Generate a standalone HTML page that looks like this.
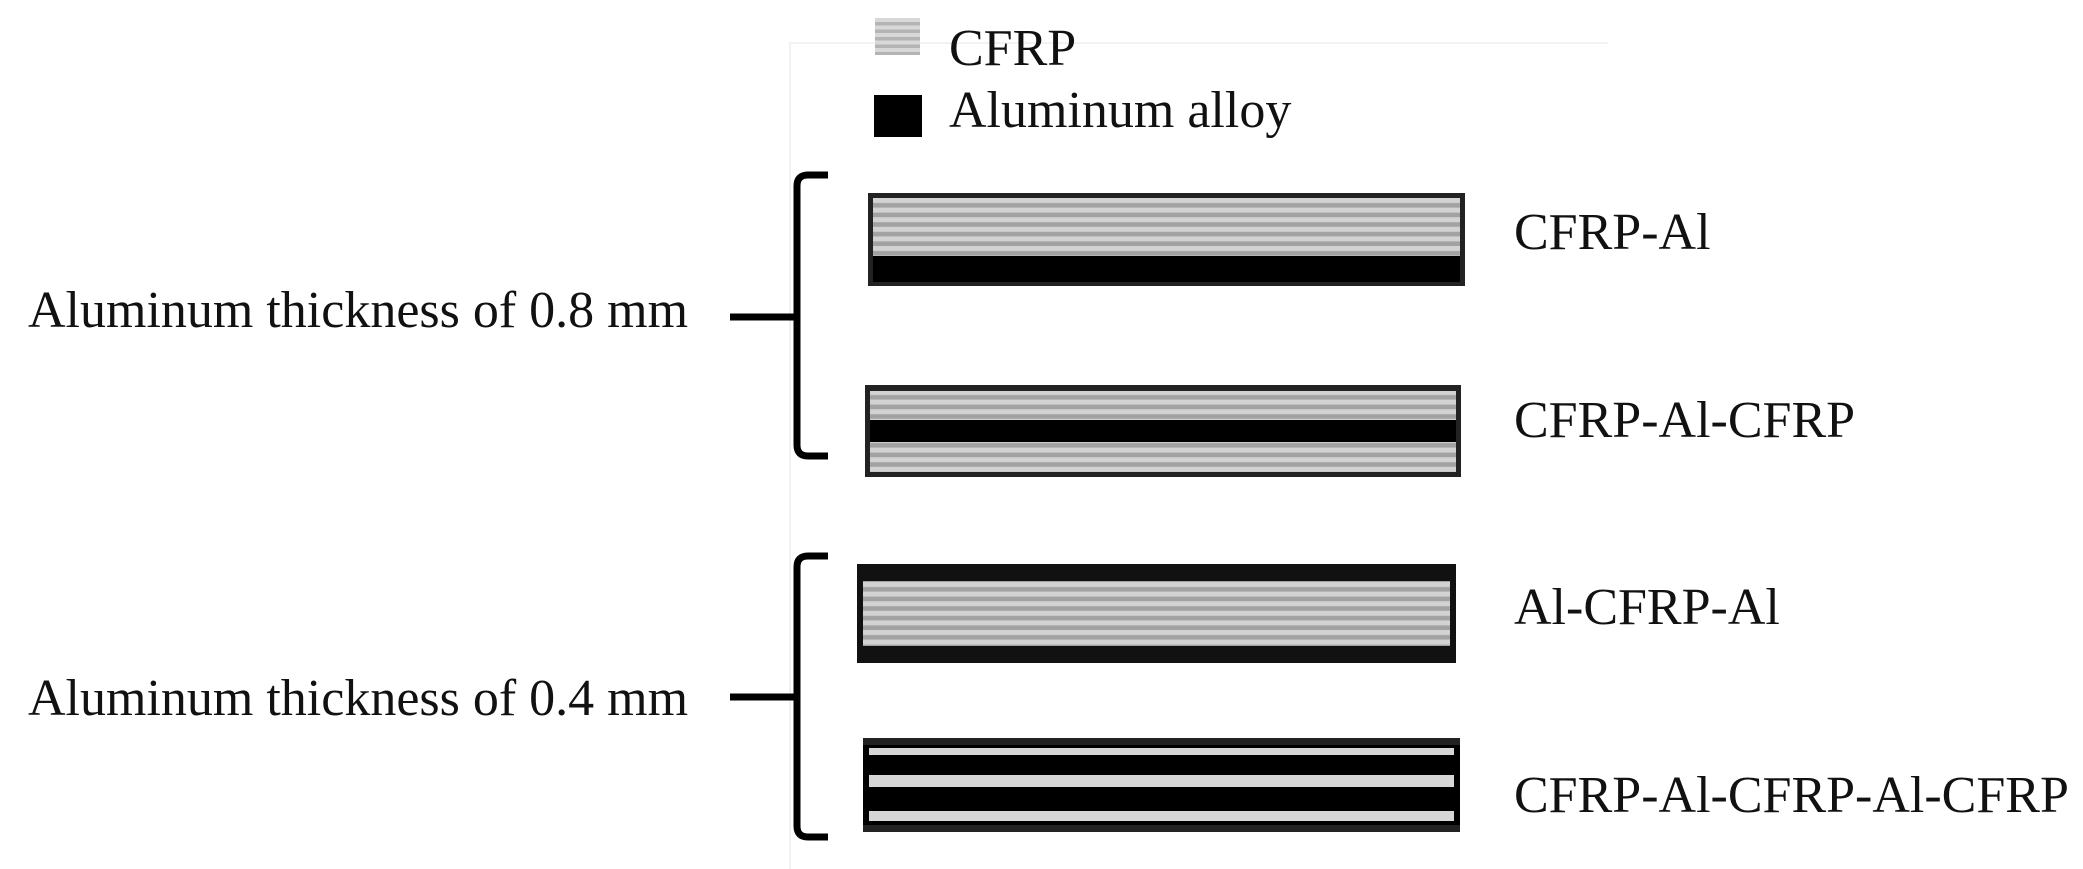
<!DOCTYPE html>
<html><head><meta charset="utf-8"><style>
html,body{margin:0;padding:0;background:#fff;}
svg{display:block;}
text{font-family:"Liberation Serif",serif;fill:#111;}
</style></head><body>
<svg width="2083" height="869" viewBox="0 0 2083 869" xmlns="http://www.w3.org/2000/svg">
<defs>
<pattern id="cf" patternUnits="userSpaceOnUse" x="0" y="198" width="20" height="9.6">
<rect width="20" height="9.6" fill="#d2d2d2"/><rect y="5" width="20" height="4.6" fill="#a2a2a2"/>
</pattern>
<pattern id="cfl" patternUnits="userSpaceOnUse" x="0" y="18" width="20" height="7.5">
<rect width="20" height="7.5" fill="#d8d8d8"/><rect y="4" width="20" height="3.5" fill="#b4b4b4"/>
</pattern>
</defs>
<path d="M790 869 V43 H1608" fill="none" stroke="#f2f2f2" stroke-width="2"/>
<rect x="875" y="18" width="45" height="37" fill="url(#cfl)"/>
<text x="949" y="65" font-size="52">CFRP</text>
<rect x="874" y="95" width="48" height="42" fill="#000"/>
<text x="949" y="127" font-size="52">Aluminum alloy</text>

<g fill="none" stroke="#000" stroke-width="7">
<path d="M828 175 H808 Q797 175 797 186 V445 Q797 456 808 456 H828"/>
<path d="M730 317 H797"/>
<path d="M828 556 H808 Q797 556 797 567 V826 Q797 837 808 837 H828"/>
<path d="M730 697 H797"/>
</g>
<text x="28" y="327" font-size="52">Aluminum thickness of 0.8 mm</text>
<text x="28" y="715" font-size="52">Aluminum thickness of 0.4 mm</text>

<rect x="868" y="193" width="597" height="93" fill="#222"/>
<rect x="873" y="198" width="587" height="58" fill="url(#cf)"/>
<rect x="873" y="256" width="587" height="26" fill="#000"/>
<text x="1514" y="249" font-size="52">CFRP-Al</text>

<rect x="865" y="385" width="596" height="92" fill="#222"/>
<rect x="870" y="391" width="586" height="29" fill="url(#cf)"/>
<rect x="870" y="420" width="586" height="22" fill="#000"/>
<rect x="870" y="442" width="586" height="30" fill="url(#cf)"/>
<text x="1514" y="437" font-size="52">CFRP-Al-CFRP</text>

<rect x="857" y="564" width="599" height="99" fill="#111"/>
<rect x="863" y="581" width="587" height="65" fill="url(#cf)"/>
<text x="1514" y="624" font-size="52">Al-CFRP-Al</text>

<rect x="863" y="738" width="597" height="94" fill="#222"/>
<rect x="863" y="745" width="597" height="80" fill="#000"/>
<rect x="869" y="748" width="585" height="7" fill="#d6d6d6"/>
<rect x="869" y="775" width="585" height="12" fill="#d6d6d6"/>
<rect x="869" y="811" width="585" height="10" fill="#d6d6d6"/>
<text x="1514" y="812" font-size="52">CFRP-Al-CFRP-Al-CFRP</text>
</svg>
</body></html>
